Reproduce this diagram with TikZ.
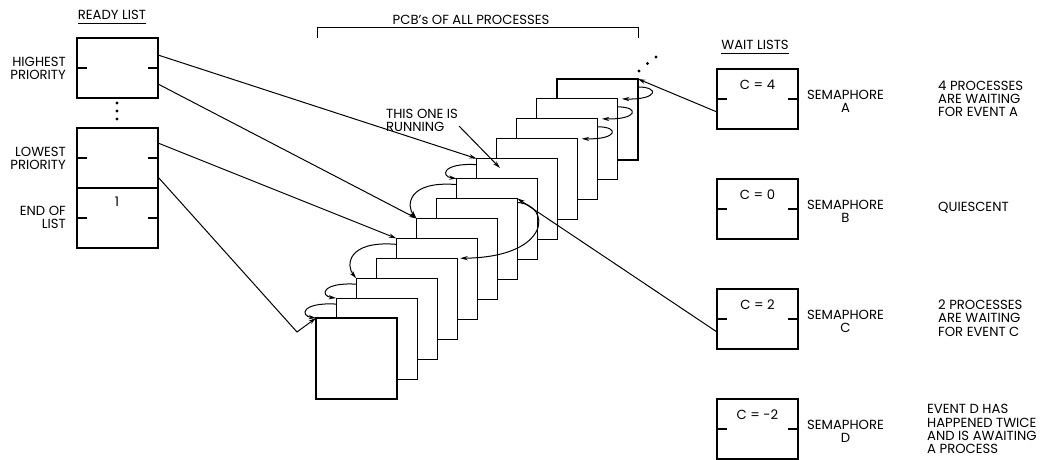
\documentclass[tikz,border=0pt]{standalone}
\usepackage{fontspec}
\setmainfont{Poppins}
\usetikzlibrary{arrows.meta,calc}
\begin{document}
\begin{tikzpicture}[x=1pt,y=-1pt,
  txt/.style={font=\fontsize{13.2}{13.2}\selectfont, inner sep=0pt},
  lbox/.style={draw, line width=1.1pt, minimum width=81pt, minimum height=60pt, inner sep=0pt, outer sep=0pt, anchor=north west},
  pcb/.style={draw, fill=white, line width=1.1pt, minimum width=81pt, minimum height=81pt, inner sep=0pt, outer sep=0pt, anchor=north west},
  ptr/.style={line width=1pt, -{Stealth[length=7.5pt,width=4.2pt]}},
  tick/.style={line width=1.1pt},
  uline/.style={line width=0.9pt}]
\useasboundingbox (0,0) rectangle (1049,460);

% ---------- ready list ----------
\node[txt] (rlt) at (112,15) {READY LIST};
\draw[uline] ($(rlt.south west)+(0,4)$) -- ($(rlt.south east)+(0,4)$);
\node[lbox] (rh) at (77,38) {};
\node[lbox] (rl) at (77,128) {};
\node[lbox] (re) at (77,188) {};
\foreach \b in {rh,rl,re} {
  \draw[tick] (\b.west) -- +(10,0);
  \draw[tick] (\b.east) -- +(-10,0);
}
\node[txt] (one) at (117,202) {1};
\node[txt, align=right, anchor=east] (lh) at (66,68.5) {HIGHEST\\PRIORITY};
\node[txt, align=right, anchor=east] (ll) at (66,158) {LOWEST\\PRIORITY};
\node[txt, align=right, anchor=east] (le) at (66,217.5) {END OF\\LIST};
\fill (117,103) circle[radius=1.7pt];
\fill (117,111) circle[radius=1.7pt];
\fill (117,119) circle[radius=1.7pt];

% ---------- PCBs ----------
\node[txt] (pcbt) at (471,20) {PCB's OF ALL PROCESSES};
\draw[line width=1pt] (317,38) -- (317,28) -- (638,28) -- (638,38);
\foreach \i in {12,11,...,0} {
  \node[pcb] (p\i) at ({316+20.08*\i},{318-19.92*\i}) {};
}
\fill (639,71) circle[radius=1.7pt];
\fill (647.5,63.5) circle[radius=1.7pt];
\fill (656,57) circle[radius=1.7pt];

\node[txt, align=left, anchor=west] (run) at (386,120) {THIS ONE IS\\RUNNING};
\coordinate (runA) at (459,126);
\coordinate (runB) at (500,168);
\draw[ptr] (runA) -- (runB);

% ---------- wait lists ----------
\node[txt] (wlt) at (755,45) {WAIT LISTS};
\draw[uline] ($(wlt.south west)+(0,4)$) -- ($(wlt.south east)+(0,4)$);
\node[lbox] (wA) at (717,69) {};
\node[lbox] (wB) at (717,179) {};
\node[lbox] (wC) at (717,289) {};
\node[lbox] (wD) at (717,399) {};
\foreach \b in {wA,wB,wC,wD} {
  \draw[tick] (\b.west) -- +(10,0);
  \draw[tick] (\b.east) -- +(-10,0);
}
\node[txt] (vA) at ($(wA.north)+(0,16)$) {C = 4};
\node[txt] (vB) at ($(wB.north)+(0,16)$) {C = 0};
\node[txt] (vC) at ($(wC.north)+(0,16)$) {C = 2};
\node[txt] (vD) at ($(wD.north)+(0,16)$) {C = -2};
\node[txt, align=center] (sA) at ($(wA.center)+(88,2)$) {SEMAPHORE\\A};
\node[txt, align=center] (sB) at ($(wB.center)+(88,2)$) {SEMAPHORE\\B};
\node[txt, align=center] (sC) at ($(wC.center)+(88,2)$) {SEMAPHORE\\C};
\node[txt, align=center] (sD) at ($(wD.center)+(88,2)$) {SEMAPHORE\\D};
\node[txt, align=left, anchor=west] (dA) at (938,99) {4 PROCESSES\\ARE WAITING\\FOR EVENT A};
\node[txt, align=left, anchor=west] (dB) at (938,208) {QUIESCENT};
\node[txt, align=left, anchor=west] (dC) at (938,318) {2 PROCESSES\\ARE WAITING\\FOR EVENT C};
\node[txt, align=left, anchor=west] (dD) at (927,429) {EVENT D HAS\\HAPPENED TWICE\\AND IS AWAITING\\A PROCESS};

% ---------- pointers ----------
\coordinate (kink) at (297,332);
\draw[ptr] ($(rh.north east)+(0,17)$) -- (p8.north west);
\draw[ptr] ($(rh.north east)+(0,46)$) -- (p5.north west);
\draw[ptr] ($(rl.north east)+(0,15)$) -- (p4.north west);
\draw[ptr] ($(rl.north east)+(0,49)$) -- (kink) -- (p0.north west);

\draw[ptr] ($(p8.north west)+(0,6)$) .. controls +(-35,-2) and +(-16,-2) .. (p7.north west);
\draw[ptr] ($(p7.north west)+(0,6)$) .. controls +(-50,-4) and +(-10,-12) .. (p5.north west);
\draw[ptr] ($(p4.north west)+(0,6)$) .. controls +(-50,-4) and +(-10,-12) .. (p2.north west);
\draw[ptr] ($(p2.north west)+(0,6)$) .. controls +(-35,-2) and +(-16,-2) .. (p1.north west);
\draw[ptr] ($(p1.north west)+(0,6)$) .. controls +(-35,-2) and +(-16,-2) .. (p0.north west);

\draw[ptr] ($(wA.north west)+(0,43)$) -- (p12.north east);
\draw[ptr] ($(p12.north east)+(0,8)$) .. controls +(22,0) and +(36,1) .. ($(p11.north east)+(4,0)$);
\draw[ptr] ($(p11.north east)+(0,8)$) .. controls +(22,0) and +(36,1) .. ($(p10.north east)+(4,0)$);
\draw[ptr] ($(p10.north east)+(0,8)$) .. controls +(22,0) and +(36,1) .. ($(p9.north east)+(4,0)$);

\draw[ptr] ($(wC.north west)+(0,43)$) -- (p6.north east);
\draw[ptr] ($(p6.north east)+(0,4)$) .. controls +(34,2) and +(92,-1) .. ($(p3.north east)+(3,0)$);
\end{tikzpicture}
\end{document}
